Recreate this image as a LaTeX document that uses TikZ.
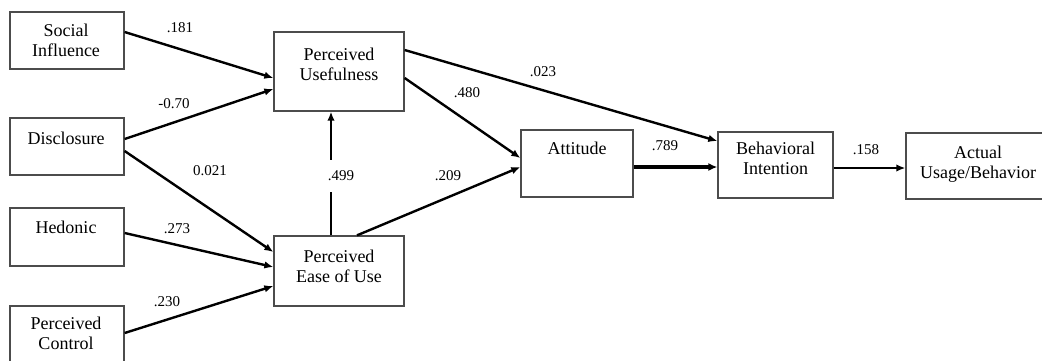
\documentclass[tikz,border=0pt]{standalone}
\usepackage{fontspec}
\setmainfont{Liberation Serif}
\usetikzlibrary{arrows.meta,calc}
\begin{document}
\begin{tikzpicture}[x=1pt,y=-1pt,
  box/.style={draw=black!70,line width=1.3pt,fill=white,inner sep=0pt,rectangle},
  boxtext/.style={align=center,inner sep=0pt,font=\fontsize{18}{20}\selectfont},
  coef/.style={inner sep=0pt,font=\fontsize{15}{17}\selectfont},
  path/.style={line width=2.4pt,-{Latex[length=9pt,width=7.5pt]}},
  thickpath/.style={line width=3.2pt,-{Latex[length=9pt,width=8pt]}}]
\useasboundingbox (0,0) rectangle (1042,360);
\begin{scope}
\clip (0,0) rectangle (1042,360);
% boxes
\node[box,minimum width=114pt,minimum height=57pt] (SI) at (67,40.5) {};
\node[box,minimum width=114pt,minimum height=57pt] (DI) at (67,146.5) {};
\node[box,minimum width=114pt,minimum height=58pt] (HE) at (67,237) {};
\node[box,minimum width=114pt,minimum height=62pt] (PC) at (67,337) {};
\node[box,minimum width=130pt,minimum height=79pt] (PU) at (339,71.5) {};
\node[box,minimum width=130pt,minimum height=70pt] (PEU) at (339,271) {};
\node[box,minimum width=112pt,minimum height=67pt] (AT) at (577,163.5) {};
\node[box,minimum width=115pt,minimum height=66pt] (BI) at (775.5,165) {};
\node[box,minimum width=144pt,minimum height=66pt] (AU) at (978,166) {};
% box texts
\node[boxtext] (SIt) at (66,40) {Social\\Influence};
\node[boxtext] (DIt) at (66,138) {Disclosure};
\node[boxtext] (HEt) at (66,227) {Hedonic};
\node[boxtext] (PCt) at (66,333) {Perceived\\Control};
\node[boxtext] (PUt) at (339,64) {Perceived\\Usefulness};
\node[boxtext] (PEUt) at (339,266) {Perceived\\Ease of Use};
\node[boxtext] (ATt) at (577,148) {Attitude};
\node[boxtext] (BIt) at (775.5,158) {Behavioral\\Intention};
\node[boxtext] (AUt) at (978,164) {Actual\\Usage/Behavior};
\end{scope}
% connectors
\draw[path] ([yshift=8.5pt]SI.east) -- ([yshift=-6.5pt]PU.west);
\draw[path] ([yshift=7.5pt]DI.east) -- ([yshift=-17.5pt]PU.west);
\draw[path] ([yshift=-4.5pt]DI.east) -- ([yshift=19pt]PEU.west);
\draw[path] ([yshift=4pt]HE.east) -- ([yshift=4pt]PEU.west);
\draw[path] ([yshift=4pt]PC.east) -- ([yshift=-15pt]PEU.west);
\draw[path] ([xshift=-8pt]PEU.north) -- ([xshift=-8pt]PU.south);
\draw[path] ([xshift=18pt]PEU.north) -- ([yshift=-3.5pt]AT.west);
\draw[path] ([yshift=-6.5pt]PU.east) -- ([yshift=5.5pt]AT.west);
\draw[path] ([yshift=21.5pt]PU.east) -- ([yshift=24pt]BI.west);
\draw[thickpath] ([yshift=-3.5pt]AT.east) -- ([yshift=-3.5pt]AT.east -| BI.west);
\draw[path] ([yshift=-3pt]BI.east) -- ([yshift=-3pt]BI.east -| AU.west);
% coefficients
\node[coef] (c1) at (180,28) {.181};
\node[coef] (c2) at (174,104) {-0.70};
\node[coef] (c3) at (210,171) {0.021};
\node[coef] (c4) at (177,229) {.273};
\node[coef] (c5) at (167,302) {.230};
\node[coef] (c6) at (467,93) {.480};
\node[coef] (c7) at (543,72) {.023};
\node[coef,fill=white,inner xsep=3pt,inner ysep=11pt] (c8) at (341,176) {.499};
\node[coef] (c9) at (448,176) {.209};
\node[coef] (c10) at (665,146) {.789};
\node[coef] (c11) at (866,150) {.158};
\end{tikzpicture}
\end{document}
